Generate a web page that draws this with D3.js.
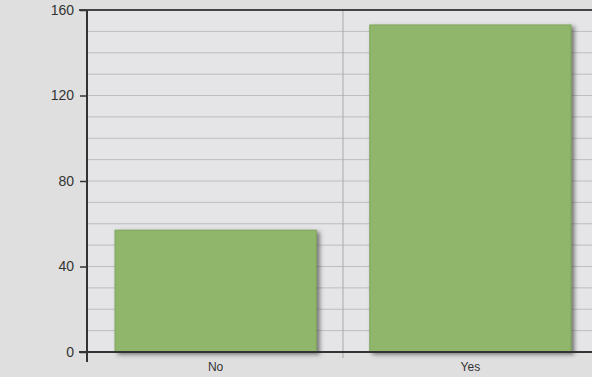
<!DOCTYPE html>
<html>
<head>
<meta charset="utf-8">
<script src="https://cdn.jsdelivr.net/npm/d3@7"></script>
<style>
  body { margin: 0; background: #dfdfdf; }
  svg { display: block; font-family: "Liberation Sans", Arial, sans-serif; }
</style>
</head>
<body>
<svg width="592" height="377"></svg>
<script>
// data
const categories = ["No", "Yes"];
const counts = [57, 153];
const yTicks = [0, 40, 80, 120, 160];

const svg = d3.select("svg");
const margin = {top: 10, right: -7, bottom: 25, left: 87};
const W = 592, H = 377;

const x = d3.scaleBand()
    .domain(categories)
    .range([margin.left, W - margin.right])
    .paddingInner(0.21)
    .paddingOuter(0.11);

const y = d3.scaleLinear()
    .domain([0, 160])
    .range([H - margin.bottom, margin.top]);

// shadow for the bars
const defs = svg.append("defs");
const f = defs.append("filter").attr("id", "shadow")
    .attr("x", "-5%").attr("y", "-5%").attr("width", "115%").attr("height", "115%");
f.append("feDropShadow").attr("dx", 3).attr("dy", 2).attr("stdDeviation", 2)
    .attr("flood-color", "#444").attr("flood-opacity", 0.7);

// plot background
svg.append("rect")
    .attr("x", margin.left).attr("y", margin.top)
    .attr("width", W - margin.left).attr("height", y(0) - margin.top)
    .attr("fill", "#e5e5e7");

// minor gridlines every 10
svg.append("g")
    .selectAll("line")
    .data(d3.range(10, 160, 10))
    .join("line")
    .attr("x1", margin.left).attr("x2", W)
    .attr("y1", d => y(d)).attr("y2", d => y(d))
    .attr("stroke", "#bdbdc1")
    .attr("stroke-width", 1);

// category separator
const sep = x("Yes") - x.step() * x.paddingInner() / 2;
svg.append("line")
    .attr("x1", sep).attr("x2", sep)
    .attr("y1", margin.top).attr("y2", y(0) + 6)
    .attr("stroke", "#a9a9ad");

// bars
svg.append("g")
    .selectAll("rect")
    .data(categories)
    .join("rect")
    .attr("x", d => x(d))
    .attr("y", (d, i) => y(counts[i]))
    .attr("width", x.bandwidth())
    .attr("height", (d, i) => y(0) - y(counts[i]))
    .attr("fill", "#8fb66a")
    .attr("stroke", "#80a65d")
    .attr("stroke-width", 1)
    .attr("filter", "url(#shadow)");

// top border
svg.append("line")
    .attr("x1", margin.left - 8).attr("x2", W)
    .attr("y1", margin.top).attr("y2", margin.top)
    .attr("stroke", "#444").attr("stroke-width", 2);

// y axis
const yAxis = svg.append("g")
    .attr("transform", `translate(${margin.left},0)`)
    .call(d3.axisLeft(y).tickValues(yTicks).tickSize(7).tickPadding(6));
yAxis.select(".domain").attr("stroke", "#333").attr("stroke-width", 2)
    .attr("d", `M0,${margin.top}V${y(0) + 10}`);
yAxis.selectAll(".tick line").attr("stroke", "#333").attr("stroke-width", 1.5);
yAxis.selectAll("text").attr("font-size", 14).attr("fill", "#333");

// x axis
svg.append("line")
    .attr("x1", margin.left - 8).attr("x2", W)
    .attr("y1", y(0)).attr("y2", y(0))
    .attr("stroke", "#333").attr("stroke-width", 2);

svg.append("g")
    .selectAll("text")
    .data(categories)
    .join("text")
    .attr("x", d => x(d) + x.bandwidth() / 2)
    .attr("y", y(0) + 19)
    .attr("text-anchor", "middle")
    .attr("font-size", 12)
    .attr("fill", "#333")
    .text(d => d);
</script>
</body>
</html>
